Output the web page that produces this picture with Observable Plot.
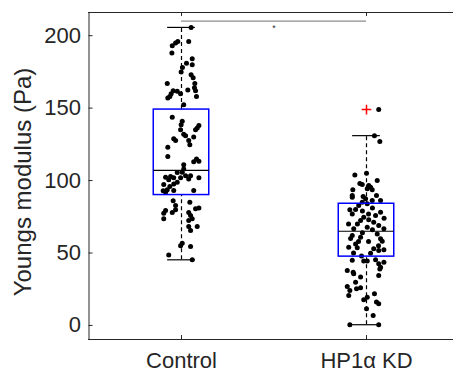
<!DOCTYPE html>
<html>
<head>
<meta charset="utf-8">
<script src="https://cdn.jsdelivr.net/npm/d3@7"></script>
<script src="https://cdn.jsdelivr.net/npm/@observablehq/plot@0.6"></script>
<style>
  html, body { margin: 0; padding: 0; background: #fff; }
  #chart svg { display: block; }
</style>
</head>
<body>
<div id="chart"></div>
<script>
// ---- data ----
const categories = ["Control", "HP1α KD"];
const yTicks = [0, 50, 100, 150, 200];
const yLabel = "Youngs modulus (Pa)";

const controlValues = [205.7,195,193,196,196,188,184,181,180,175,178,173,171,167,167,164,162,160,161.6,162.5,160,162,158,157,158,152.4,
  143.7,141,138.6,138,136.3,135,135,132,131,130,128.8,127.6,127.6,124.8,123,114.9,113.3,113,116.6,111,108,
  105.7,105.5,102.3,102.8,101.9,100.5,101.9,103.4,103.4,101.1,101.9,97.2,95.9,97.7,98.9,93.6,91.9,93.1,93.1,93,
  86,82.8,85,79.3,77.4,78,79.8,81,80.5,78,75.9,73.6,73.6,72.4,68.3,68.3,65.5,56.8,55,54.5,48.7,45.3];
const controlJitter = [0.052,-0.032,-0.050,-0.020,0.039,-0.052,0.058,0.027,0.058,-0.002,0.005,0.052,0.063,-0.077,0.072,0.070,-0.045,-0.056,-0.023,0.034,-0.005,0.076,0.081,-0.074,-0.063,0.012,
  -0.050,0.004,-0.002,0.094,0.085,0.076,-0.005,0.012,0.022,0.066,-0.042,-0.032,0.039,0.045,-0.074,0.081,0.094,0.066,-0.074,0.012,0.012,
  0.004,-0.023,-0.086,-0.059,-0.042,-0.069,-0.005,0.022,0.049,0.039,0.094,-0.096,-0.063,-0.042,-0.023,-0.077,-0.086,-0.042,0.066,-0.099,
  -0.045,-0.032,0.045,-0.086,-0.096,-0.050,-0.032,0.094,0.076,0.039,0.049,0.058,-0.096,0.039,0.085,0.039,0.049,0.004,-0.005,0.049,-0.069,0.058];

const kdValues = [149,131,126.9,105,103.9,100,98,97.2,96.6,94.3,95.4,93.6,93.6,89.7,88.5,89,89.7,85,82.8,86.2,86.2,87.4,84,
  79.8,77,74.7,72.9,75.9,71.3,72.4,78.2,69,66.7,67.8,66.7,62,60.9,63.2,59.8,58.1,56.3,53.6,52.9,51.7,52.2,54,49.9,
  80,81,79,77,70,66,64,70,74,58,58,50,48,55,60,
  45,44.5,44.4,45.3,42.5,40.2,43.7,37.9,36.8,35.7,33.5,39,34.5,29.9,26.9,24.1,25.3,26,20.7,21.8,19.5,17.7,16.1,15,11.5,6.9,0.5,0.5];
const kdJitter = [0.066,0.043,0.072,0,-0.063,0.058,-0.036,-0.023,0.012,0.004,0.022,-0.074,0.031,-0.077,-0.077,-0.018,0.054,-0.023,-0.042,0.031,0.076,-0.005,0.004,
  -0.090,-0.077,-0.015,0.012,0.049,0.039,-0.032,0.076,0.066,-0.069,0.004,0.094,-0.077,-0.032,0.058,0.076,0.085,-0.059,-0.050,0.039,0.066,0.094,-0.096,0.022,
  -0.059,0.032,-0.022,0.011,-0.049,0.032,-0.022,-0.097,0.095,-0.043,0.011,-0.070,-0.027,0.065,-0.086,
  -0.077,-0.015,0.004,0.049,0.066,0.076,0.094,-0.104,-0.072,-0.069,-0.032,0.072,0.066,-0.059,-0.104,-0.090,-0.054,-0.032,-0.096,0.043,0.004,-0.015,0.054,0.066,0,0.036,-0.090,0.066];

// box statistics
const boxQ1 = [90, 47.5];
const boxMedian = [107, 65];
const boxQ3 = [149, 84];
const whiskerLow = [45.3, 0.5];
const whiskerHigh = [205.7, 131];
const outlierGroup = [2];
const outlierValue = [149];
const sigPair = [1, 2];
const sigLevel = 210;
const sigStarLevel = 207;

// ---- tables built from the arrays ----
const points = [
  ...controlValues.map((v, i) => ({x: 1 + controlJitter[i], y: v})),
  ...kdValues.map((v, i) => ({x: 2 + kdJitter[i], y: v}))
];
const boxes = categories.map((c, i) => ({
  g: i + 1, q1: boxQ1[i], med: boxMedian[i], q3: boxQ3[i], lo: whiskerLow[i], hi: whiskerHigh[i]
}));
const outliers = outlierGroup.map((g, i) => ({x: g, y: outlierValue[i]}));

const yMin = -9.7, yMax = 216;
const halfBox = 0.15, halfCap = 0.075;
const axisColor = "#262626";
const font = "'Liberation Sans', Arial, Helvetica, sans-serif";

const chart = Plot.plot({
  width: 453,
  height: 372,
  marginLeft: 88,
  marginRight: 0,
  marginTop: 12,
  marginBottom: 33,
  x: {type: "linear", domain: [0.5, 2.5], range: [88.5, 458.5], axis: null},
  y: {domain: [yMin, yMax], axis: null},
  style: {fontFamily: font, background: "white", overflow: "hidden"},
  marks: [
    // jittered points
    Plot.dot(points, {x: "x", y: "y", r: 2.5, fill: "black", stroke: "none"}),
    // whiskers (dashed)
    Plot.ruleX(boxes, {x: "g", y1: "q3", y2: "hi", stroke: "black", strokeWidth: 1.2, strokeDasharray: "4,3"}),
    Plot.ruleX(boxes, {x: "g", y1: "lo", y2: "q1", stroke: "black", strokeWidth: 1.2, strokeDasharray: "4,3"}),
    // whisker caps
    Plot.ruleY(boxes, {y: "hi", x1: d => d.g - halfCap, x2: d => d.g + halfCap, stroke: "black", strokeWidth: 1.2}),
    Plot.ruleY(boxes, {y: "lo", x1: d => d.g - halfCap, x2: d => d.g + halfCap, stroke: "black", strokeWidth: 1.2}),
    // boxes
    Plot.rect(boxes, {x1: d => d.g - halfBox, x2: d => d.g + halfBox, y1: "q1", y2: "q3", fill: "none", stroke: "#0000ff", strokeWidth: 1.5}),
    // medians
    Plot.ruleY(boxes, {y: "med", x1: d => d.g - halfBox, x2: d => d.g + halfBox, stroke: "black", strokeWidth: 1.2}),
    // outlier
    Plot.dot(outliers, {x: "x", y: "y", symbol: "plus", r: 3.2, stroke: "#ff0000", strokeWidth: 1.5}),
    // significance bar
    Plot.ruleY([sigLevel], {x1: sigPair[0], x2: sigPair[1], stroke: "#8c8c8c", strokeWidth: 1.2}),
    Plot.text(["*"], {x: (sigPair[0] + sigPair[1]) / 2, y: sigStarLevel, text: d => d, fontSize: 9, fill: "#333", dy: 3}),
    // axes frame
    Plot.ruleX([0.5], {y1: yMin, y2: yMax, stroke: axisColor, strokeWidth: 1}),
    Plot.ruleY([yMin, yMax], {stroke: axisColor, strokeWidth: 1}),
    // y ticks (inward)
    Plot.ruleY(yTicks, {x1: 0.5, x2: 0.5 + 4 / 185, stroke: axisColor, strokeWidth: 1}),
    Plot.text(yTicks, {x: 0.5, y: d => d, text: d => String(d), textAnchor: "end", dx: -8, fontSize: 22, fill: axisColor}),
    // x ticks (inward, bottom and top)
    Plot.ruleX(categories.map((c, i) => i + 1), {y1: yMin, y2: yMin + 4 / 1.45, stroke: axisColor, strokeWidth: 1}),
    Plot.ruleX(categories.map((c, i) => i + 1), {y1: yMax, y2: yMax - 4 / 1.45, stroke: axisColor, strokeWidth: 1}),
    Plot.text(categories, {x: (d, i) => i + 1, y: yMin, text: d => d, dy: 21, fontSize: 22, fill: axisColor}),
    // y label
    Plot.text([yLabel], {frameAnchor: "left", textAnchor: "middle", rotate: -90, dx: -65, dy: 6, text: d => d, fontSize: 24, fill: axisColor})
  ]
});
document.getElementById("chart").appendChild(chart);
</script>
</body>
</html>
